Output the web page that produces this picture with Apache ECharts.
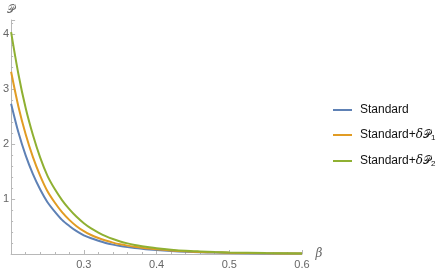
<!DOCTYPE html>
<html><head><meta charset="utf-8">
<script src="https://cdn.jsdelivr.net/npm/echarts@6/dist/echarts.min.js"></script>
<style>html,body{margin:0;padding:0;background:#fff}#c{width:436px;height:273px}</style>
</head><body><div id="c"></div>
<script>
const betas = [0.20,0.21,0.22,0.23,0.24,0.25,0.26,0.27,0.28,0.29,0.30,0.31,0.32,0.33,0.34,0.35,0.36,0.37,0.38,0.39,0.40,0.42,0.44,0.46,0.48,0.50,0.55,0.60];
const standard = [2.73,2.21,1.79,1.45,1.17,0.94,0.77,0.62,0.51,0.415,0.34,0.285,0.24,0.2,0.17,0.145,0.125,0.108,0.094,0.082,0.071,0.053,0.04,0.031,0.025,0.02,0.011,0.007];
const standardP1 = [3.31,2.68,2.175,1.76,1.42,1.14,0.935,0.76,0.62,0.505,0.415,0.345,0.29,0.245,0.207,0.176,0.152,0.132,0.114,0.099,0.086,0.065,0.049,0.038,0.03,0.024,0.014,0.008];
const standardP2 = [4.03,3.27,2.65,2.16,1.75,1.42,1.18,0.98,0.815,0.675,0.56,0.465,0.39,0.325,0.272,0.228,0.193,0.165,0.142,0.122,0.105,0.079,0.059,0.047,0.037,0.029,0.017,0.01];
const seriesNames = ['Standard','Standard+δ𝒫1','Standard+δ𝒫2'];
const colors = ['#5E81B5','#E19C24','#8FB032'];
const xTicks = [0.3,0.4,0.5,0.6];
const yTicks = [1,2,3,4];

const chart = echarts.init(document.getElementById('c'), null, {renderer:'canvas'});
const grey = '#666';
const axisCol = '#b8b8b8';
const font = 'Liberation Sans, Arial, sans-serif';
function pairs(v){ return betas.map((b,i)=>[b,v[i]]); }
const vals = [standard, standardP1, standardP2];
chart.setOption({
  animation:false,
  grid:{left:7,right:134,top:20,bottom:19,containLabel:false},
  xAxis:{type:'value',min:0.2,max:0.6,interval:0.1,
    name:'β',nameLocation:'end',nameGap:8,
    nameTextStyle:{color:grey,fontStyle:'italic',fontSize:12,fontFamily:'DejaVu Serif, serif',verticalAlign:'middle'},
    axisLine:{show:true,lineStyle:{color:axisCol,width:1}},
    axisTick:{show:true,inside:true,length:4,lineStyle:{color:axisCol}},
    minorTick:{show:true,splitNumber:5,length:2,lineStyle:{color:axisCol}},
    splitLine:{show:false},
    axisLabel:{color:grey,fontSize:11,fontFamily:font,margin:5,
      formatter:v=>{const t=xTicks.find(x=>Math.abs(x-v)<1e-6);return t===undefined?'':t.toFixed(1);}}
  },
  yAxis:{type:'value',min:0,max:4.25,interval:1,
    name:'𝒫',nameLocation:'end',nameGap:4,
    nameTextStyle:{color:grey,fontSize:11,fontFamily:'DejaVu Sans, sans-serif',align:'center',padding:[0,0,0,0]},
    axisLine:{show:true,lineStyle:{color:axisCol,width:1}},
    axisTick:{show:true,inside:true,length:4,lineStyle:{color:axisCol}},
    minorTick:{show:true,splitNumber:5,length:2,lineStyle:{color:axisCol}},
    splitLine:{show:false},
    axisLabel:{color:grey,fontSize:11,fontFamily:font,margin:2,
      formatter:v=>{const t=yTicks.find(x=>Math.abs(x-v)<1e-6);return t===undefined?'':String(t);}}
  },
  legend:{orient:'vertical',left:328,top:99,padding:5,itemWidth:19,itemHeight:2,itemGap:13,icon:'rect',
    data:seriesNames,
    textStyle:{color:'#111',fontSize:12,fontFamily:font,padding:[0,0,0,3],
      rich:{n:{fontSize:12,fontFamily:font,color:'#111'},
            d:{fontSize:12,fontStyle:'italic',fontFamily:'DejaVu Serif, serif',color:'#111'},
            p:{fontSize:10.5,fontFamily:'DejaVu Sans, sans-serif',color:'#111'},
            s:{fontSize:8,fontFamily:font,color:'#111',verticalAlign:'bottom',padding:[6,0,0,0]}}},
    formatter:function(name){
      if(name==='Standard') return '{n|Standard}';
      const k=name.slice(-1);
      return '{n|Standard+}{d|δ}{p|𝒫}{s|'+k+'}';
    }
  },
  series:vals.map((v,i)=>({name:seriesNames[i],type:'line',data:pairs(v),smooth:0.3,showSymbol:false,
    lineStyle:{color:colors[i],width:2},itemStyle:{color:colors[i]},z:2+i}))
});
</script></body></html>
